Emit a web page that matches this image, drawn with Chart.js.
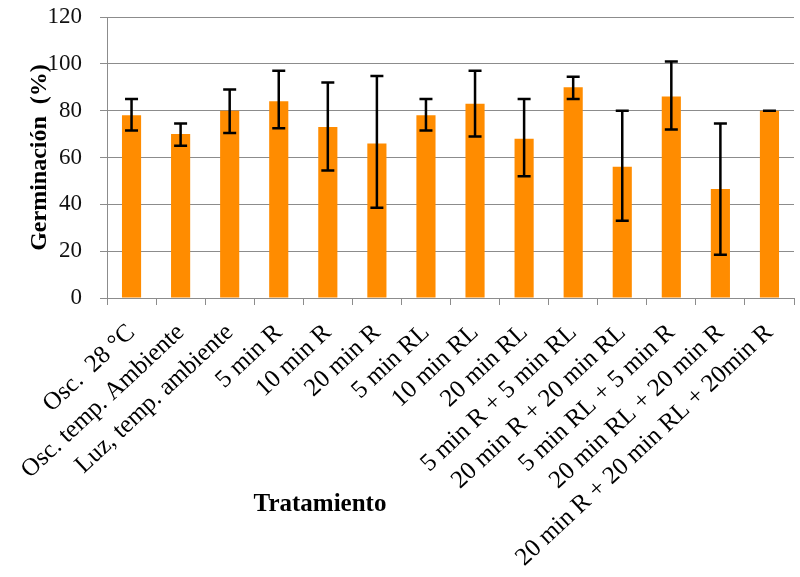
<!DOCTYPE html>
<html>
<head>
<meta charset="utf-8">
<script src="https://cdn.jsdelivr.net/npm/chart.js@4"></script>
<style>
  html, body { margin: 0; padding: 0; background: #fff; }
  #wrap { width: 800px; height: 577px; position: relative; }
</style>
</head>
<body>
<div id="wrap"><canvas id="grafico"></canvas></div>
<script>
// datos: germinacion (%) por tratamiento
var tratamientos = [
  'Osc.  28 °C',
  'Osc. temp. Ambiente',
  'Luz, temp. ambiente',
  '5 min R',
  '10 min R',
  '20 min R',
  '5 min RL',
  '10 min RL',
  '20 min RL',
  '5 min R + 5 min RL',
  '20 min R + 20 min RL',
  '5 min RL + 5 min R',
  '20 min RL + 20 min R',
  '20 min R + 20 min RL + 20min R'
];
var germinacion = [78, 70, 80, 84, 73, 66, 78, 83, 68, 90, 56, 86, 46.5, 80];
var errBajo = [71.5, 65, 70.5, 72.5, 54.5, 38.5, 71.5, 69, 52, 85, 33, 72, 18.5, 80];
var errAlto = [85, 74.5, 89, 97, 92, 94.8, 85, 97, 85, 94.5, 80, 101, 74.5, 80];
var ticksY = [0, 20, 40, 60, 80, 100, 120];

var gris = '#8c8c8c';

// barras de error (min / max) dibujadas con la escala y
var pluginError = {
  id: 'barraError',
  afterDatasetsDraw: function(chart) {
    var meta = chart.getDatasetMeta(0);
    var escalaY = chart.scales.y;
    var ctx = chart.ctx;
    ctx.save();
    ctx.strokeStyle = '#000';
    ctx.lineWidth = 2.5;
    meta.data.forEach(function(barra, i) {
      var yA = escalaY.getPixelForValue(errAlto[i]);
      var yB = escalaY.getPixelForValue(errBajo[i]);
      ctx.beginPath();
      ctx.moveTo(barra.x, yA); ctx.lineTo(barra.x, yB);
      ctx.moveTo(barra.x - 6.5, yA); ctx.lineTo(barra.x + 6.5, yA);
      ctx.moveTo(barra.x - 6.5, yB); ctx.lineTo(barra.x + 6.5, yB);
      ctx.stroke();
    });
    ctx.restore();
  }
};

// titulo del eje x, no centrado (como en el original)
var pluginTitulo = {
  id: 'tituloX',
  afterDraw: function(chart) {
    var ctx = chart.ctx;
    ctx.save();
    ctx.font = 'bold 25px "Liberation Serif", serif';
    ctx.fillStyle = '#000';
    ctx.textAlign = 'center';
    ctx.textBaseline = 'alphabetic';
    ctx.fillText('Tratamiento', 320, 511);
    ctx.restore();
  }
};

var grafico = new Chart(document.getElementById('grafico'), {
  type: 'bar',
  data: {
    labels: tratamientos,
    datasets: [{
      label: 'Germinación (%)',
      data: germinacion,
      backgroundColor: '#FF8C00',
      borderWidth: 0,
      categoryPercentage: 1,
      barPercentage: 0.39
    }]
  },
  options: {
    responsive: true,
    maintainAspectRatio: false,
    animation: false,
    layout: { padding: { left: 0, top: 17, right: 6, bottom: 0 } },
    plugins: {
      legend: { display: false },
      tooltip: { enabled: false }
    },
    scales: {
      x: {
        afterFit: function(s) {
          s.height = 279;
          s.paddingLeft = 0;
          s.paddingRight = 0;
        },
        border: { color: gris, width: 1 },
        grid: { offset: true, drawOnChartArea: false, drawTicks: true, tickLength: 7, color: gris },
        ticks: {
          autoSkip: false,
          minRotation: 43,
          maxRotation: 43,
          padding: 13,
          color: '#000',
          font: { family: '"Liberation Serif", serif', size: 25 }
        }
      },
      y: {
        min: 0,
        max: 120,
        afterFit: function(s) {
          s.width = 107;
          s.paddingTop = 0;
          s.paddingBottom = 0;
        },
        afterBuildTicks: function(s) {
          s.ticks = ticksY.map(function(v) { return { value: v }; });
        },
        border: { color: gris, width: 1 },
        grid: { color: gris, tickLength: 7 },
        ticks: {
          padding: 18,
          color: '#111',
          font: { family: '"Liberation Serif", serif', size: 23 }
        },
        title: {
          display: true,
          text: 'Germinación  (%)',
          color: '#000',
          padding: { top: 25, bottom: 0 },
          font: { family: '"Liberation Serif", serif', size: 24, weight: 'bold' }
        }
      }
    }
  },
  plugins: [pluginError, pluginTitulo]
});
</script>
</body>
</html>
